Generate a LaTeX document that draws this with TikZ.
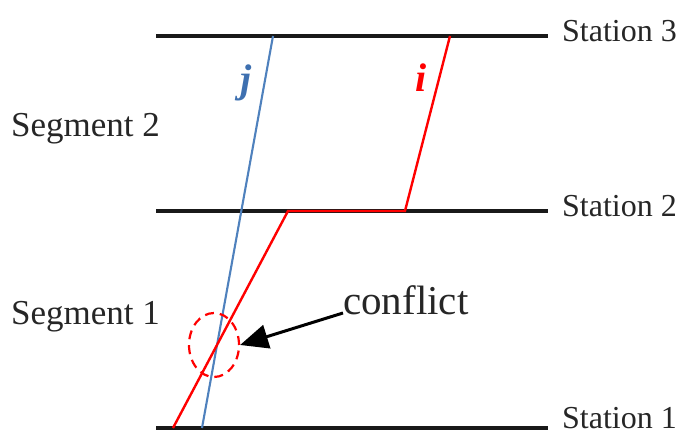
\documentclass[tikz,border=0pt]{standalone}
\usepackage{fontspec}
\setmainfont{Liberation Serif}
\usetikzlibrary{arrows.meta,shapes.geometric}
\definecolor{trainj}{HTML}{4F81BD}
\definecolor{trainjtxt}{HTML}{3E70B0}
\definecolor{traini}{HTML}{FF0000}
\begin{document}
\begin{tikzpicture}[x=1pt,y=-1pt,
  stationline/.style={line width=3.2pt,black!90},
  lbl/.style={anchor=base west,inner sep=0pt,font=\fontsize{32}{32}\selectfont,text=black!85},
  seglbl/.style={anchor=base west,inner sep=0pt,font=\fontsize{35}{35}\selectfont,text=black!85},
  trainlbl/.style={anchor=base west,inner sep=0pt,font=\fontsize{40}{40}\selectfont\bfseries\itshape},
  pathj/.style={line width=2.1pt,trainj},
  pathi/.style={line width=2.4pt,traini},
  conflictmark/.style={draw=traini,dashed,dash pattern=on 9pt off 6pt,line width=2.2pt,ellipse,minimum width=50pt,minimum height=64pt,inner sep=0pt},
  pointer/.style={line width=3pt,-{Triangle[length=28pt,width=24pt]}}]
\useasboundingbox (0,0) rectangle (683,435);
% station lines
\coordinate (s3a) at (156,36); \coordinate (s3b) at (548,36);
\coordinate (s2a) at (156,211); \coordinate (s2b) at (548,211);
\coordinate (s1a) at (156,428); \coordinate (s1b) at (548,428);
\draw[stationline] (s3a) -- (s3b);
\draw[stationline] (s2a) -- (s2b);
\draw[stationline] (s1a) -- (s1b);
% train paths
\coordinate (j3) at (273,36); \coordinate (j1) at (202,428);
\draw[pathj] (j3) -- (j1);
\coordinate (i3) at (450,36); \coordinate (i2r) at (405,211);
\coordinate (i2l) at (288,211); \coordinate (i1) at (173,428);
\draw[pathi] (i3) -- (i2r) -- (i2l) -- (i1);
% labels
\node[lbl] (st3) at (562,42) {Station 3};
\node[lbl] (st2) at (562,217) {Station 2};
\node[lbl] (st1) at (562,429) {Station 1};
\node[seglbl] (sg2) at (11,137) {Segment 2};
\node[seglbl] (sg1) at (11,325) {Segment 1};
\node[trainlbl,text=trainjtxt] (lj) at (240,93) {j};
\node[trainlbl,text=traini] (li) at (415,92) {i};
% conflict
\node[conflictmark] (circ) at (214,345) {};
\node[anchor=base west,inner sep=0pt,font=\fontsize{41}{41}\selectfont,text=black!85] (cf) at (343,315) {conflict};
\coordinate (cfs) at (343,313);
\draw[pointer] (cfs) -- (circ.east);
\end{tikzpicture}
\end{document}
